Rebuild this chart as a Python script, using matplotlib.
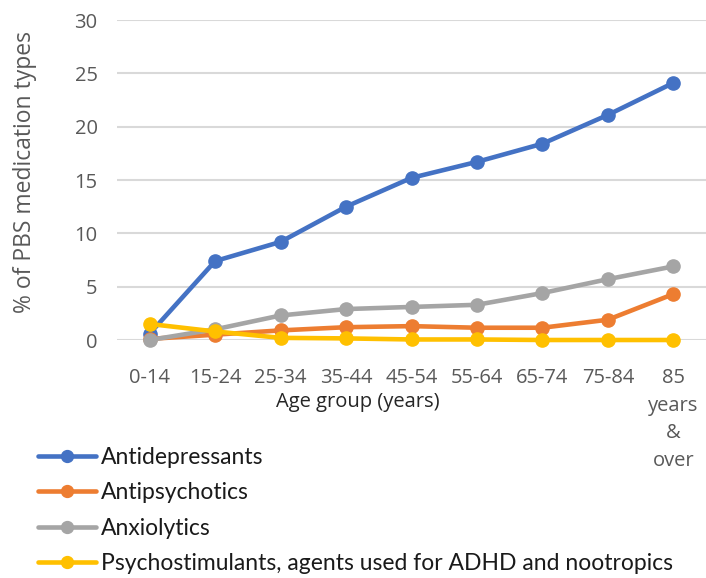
import matplotlib.pyplot as plt

age_groups = ["0-14", "15-24", "25-34", "35-44", "45-54", "55-64",
              "65-74", "75-84", "85\nyears\n&\nover"]

antidepressants = [0.6, 7.4, 9.2, 12.5, 15.2, 16.7, 18.4, 21.1, 24.1]
antipsychotics = [0.1, 0.5, 0.9, 1.2, 1.3, 1.15, 1.15, 1.9, 4.3]
anxiolytics = [0.0, 1.0, 2.3, 2.9, 3.1, 3.3, 4.4, 5.7, 6.9]
psychostimulants = [1.5, 0.8, 0.2, 0.15, 0.05, 0.05, 0.0, 0.0, 0.0]

series = [
    ("Antidepressants", antidepressants, "#4472C4"),
    ("Antipsychotics", antipsychotics, "#ED7D31"),
    ("Anxiolytics", anxiolytics, "#A5A5A5"),
    ("Psychostimulants, agents used for ADHD and nootropics", psychostimulants, "#FFC000"),
]

tick_font = "Open Sans"
text_grey = "#595959"

W, H = 706, 578
fig = plt.figure(figsize=(W / 100, H / 100), dpi=100)
# plot area in pixel units: x 117..706, y 20..340
ax = fig.add_axes([117 / W, 1 - 340 / H, 589 / W, 320 / H])

x = list(range(len(age_groups)))
handles = []
for label, vals, color in series:
    ln, = ax.plot(x, vals, color=color, lw=3.3, marker="o", markersize=9.5,
                  solid_capstyle="round", label=label, clip_on=False, zorder=3)
    handles.append(ln)

ax.set_xlim(-0.5, len(age_groups) - 0.5)
ax.set_ylim(0, 30)
ax.set_yticks(range(0, 31, 5))
ax.yaxis.grid(True, color="#D9D9D9", lw=1.5)
ax.set_axisbelow(True)
for sp in ax.spines.values():
    sp.set_visible(False)

ax.set_xticks(x)
ax.set_xticklabels(age_groups, fontsize=14.5, color=text_grey, family=tick_font,
                   va="top", linespacing=1.52)
ax.tick_params(axis="both", length=0)
ax.tick_params(axis="x", pad=20)
ax.tick_params(axis="y", pad=14, labelsize=14.5, labelcolor=text_grey)
for t in ax.get_yticklabels():
    t.set_family(tick_font)

fig.text(358 / W, 1 - 402 / H, "Age group (years)", ha="center", va="center",
         fontsize=14.5, family=tick_font, color="#262626")
fig.text(25 / W, 1 - 172 / H, "% of PBS medication types", ha="center",
         va="center", rotation=90, fontsize=16.5, family=tick_font, color=text_grey)

leg = fig.legend(handles=handles, loc="upper left",
                 bbox_to_anchor=(38 / W, 1 - 447 / H), frameon=False,
                 handlelength=2.55, handletextpad=0.2, labelspacing=0.63,
                 borderpad=0, borderaxespad=0, markerscale=0.9,
                 prop={"family": "Lato", "size": 16.5})
for t in leg.get_texts():
    t.set_color("#1a1a1a")

fig.savefig("out.png", dpi=100)
